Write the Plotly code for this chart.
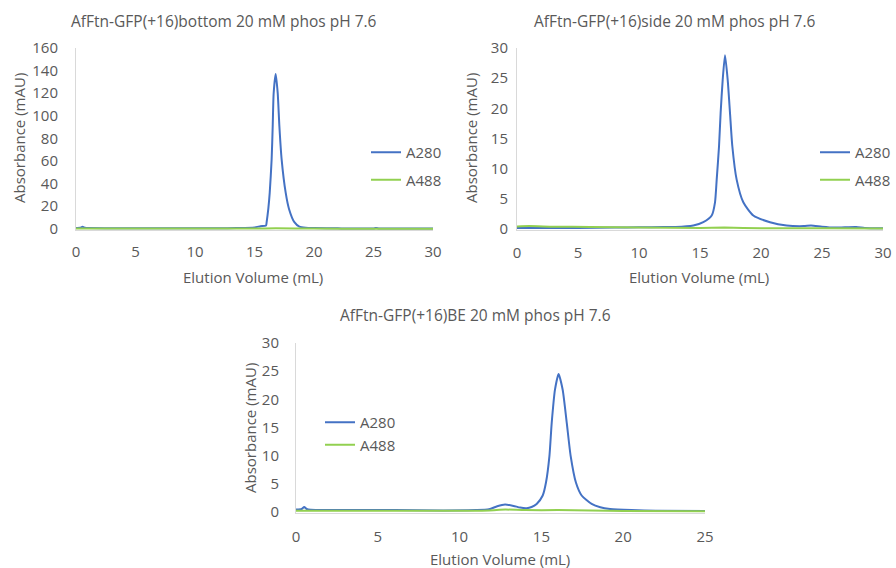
import plotly.graph_objects as go

W, H = 896, 568
BLUE = "#4472C4"
GREEN = "#92D050"
GRAY = "#595959"
AXIS = "#D9D9D9"
FONT = "Open Sans"

titles = ["AfFtn-GFP(+16)bottom 20 mM phos pH 7.6",
          "AfFtn-GFP(+16)side 20 mM phos pH 7.6",
          "AfFtn-GFP(+16)BE 20 mM phos pH 7.6"]
x_title = "Elution Volume (mL)"
y_title = "Absorbance (mAU)"
series_names = ["A280", "A488"]

# Panel 1: bottom
bottom_a280_x = [0, 0.35, 0.55, 0.75, 1.0, 3, 5, 8, 10, 12, 13.5, 15, 15.5, 15.97, 16.02, 16.16, 16.28,
                 16.44, 16.53, 16.61, 16.78, 16.95, 17.09, 17.28, 17.62, 17.9, 18.35, 18.77, 19.3, 20,
                 22, 25, 25.2, 25.5, 28, 30]
bottom_a280_y = [0.8, 0.9, 1.8, 1.0, 0.7, 0.6, 0.5, 0.5, 0.5, 0.5, 0.7, 1.2, 2.3, 3.0, 6, 17.6, 32,
                 61.5, 91, 120, 137, 120, 91, 61.5, 32, 17.6, 5.9, 2.0, 1.0, 0.7,
                 0.4, 0.3, 0.7, 0.3, 0.3, 0.3]
bottom_a488_x = [0, 5, 10, 15, 16.8, 20, 25, 30]
bottom_a488_y = [0.3, 0.2, 0.2, 0.2, 0.4, 0.2, 0.1, 0.1]

# Panel 2: side
side_a280_x = [0, 2, 5, 8, 10, 12, 13, 14.45, 15.27, 15.96, 16.23, 16.37, 16.56, 16.69, 16.86, 17.05,
               17.27, 17.46, 17.65, 18.0, 18.55, 19.37, 20.74, 22.1, 23.5, 24.1, 25, 26, 27.8, 28.5, 30]
side_a280_y = [0.15, 0.15, 0.15, 0.2, 0.25, 0.3, 0.3, 0.55, 1.1, 2.2, 4.4, 8.2, 13.7, 19.2, 24.7, 28.8,
               24.7, 19.2, 13.7, 8.2, 4.4, 2.2, 1.1, 0.55, 0.45, 0.55, 0.35, 0.2, 0.3, 0.15, 0.1]
side_a488_x = [0, 1, 3, 6, 10, 15, 17, 20, 25, 30]
side_a488_y = [0.4, 0.45, 0.35, 0.3, 0.2, 0.15, 0.2, 0.1, 0.1, 0.05]

# Panel 3: BE
be_a280_x = [0, 0.35, 0.5, 0.65, 0.9, 3, 6, 9, 11, 11.8, 12.3, 12.78, 13.3, 13.7, 14.1, 14.4, 14.71,
             15.08, 15.28, 15.49, 15.63, 15.83, 16.05, 16.3, 16.55, 16.79, 17.11, 17.46, 18.07, 18.6,
             19.2, 20.5, 22, 25]
be_a280_y = [0.4, 0.5, 0.85, 0.5, 0.35, 0.3, 0.3, 0.25, 0.3, 0.45, 1.0, 1.3, 1.05, 0.75, 0.65, 0.85, 1.4,
             2.9, 5.2, 9.9, 15.8, 21.7, 24.5, 21.7, 15.8, 9.9, 5.2, 2.9, 1.4, 0.8,
             0.5, 0.3, 0.2, 0.15]
be_a488_x = [0, 5, 10, 11.8, 12.8, 14, 16, 18, 20, 25]
be_a488_y = [0.2, 0.2, 0.2, 0.25, 0.4, 0.3, 0.3, 0.25, 0.15, 0.1]

x_ranges = [[0, 30], [0, 30], [0, 25]]
y_ranges = [[0, 160], [0, 30], [0, 30]]
y_dticks = [20, 5, 5]

# pixel boxes (left, right, top, bottom)
boxes = [(76, 433, 48, 230), (517, 883, 48, 230), (296, 705, 343, 513)]

def px(x):
    return x / W

def py(y):
    return 1 - y / H

panels = [
    (bottom_a280_x, bottom_a280_y, bottom_a488_x, bottom_a488_y),
    (side_a280_x, side_a280_y, side_a488_x, side_a488_y),
    (be_a280_x, be_a280_y, be_a488_x, be_a488_y),
]

fig = go.Figure()
legend_ids = ["legend", "legend2", "legend3"]
for i, (ax_, ay_, gx_, gy_) in enumerate(panels):
    sfx = "" if i == 0 else str(i + 1)
    fig.add_trace(go.Scatter(x=ax_, y=ay_, mode="lines", name=series_names[0],
                             line=dict(color=BLUE, width=2, shape="spline", smoothing=0.6),
                             xaxis="x" + sfx, yaxis="y" + sfx, legend=legend_ids[i],
                             legendgroup=f"a{i}"))
    fig.add_trace(go.Scatter(x=gx_, y=gy_, mode="lines", name=series_names[1],
                             line=dict(color=GREEN, width=2, shape="spline", smoothing=0.6),
                             xaxis="x" + sfx, yaxis="y" + sfx, legend=legend_ids[i],
                             legendgroup=f"b{i}"))

layout = dict(width=W, height=H, margin=dict(l=0, r=0, t=0, b=0, autoexpand=False),
              paper_bgcolor="white", plot_bgcolor="white",
              font=dict(family=FONT, size=15, color=GRAY))

annotations = []
title_pos = [(224, 21), (675, 21), (475, 315)]
xt_pos = [(253, 277), (699, 277), (500, 559)]
yt_pos = [(19, 138), (471, 138), (250, 428)]
ystand = [14, 5, 13]
xstand = [8, 9, 10]
for i, (l, r, t, b) in enumerate(boxes):
    sfx = "" if i == 0 else str(i + 1)
    rng = y_ranges[i]
    span = rng[1] - rng[0]
    pad = span * 1.2 / (b - t)
    layout["xaxis" + sfx] = dict(domain=[px(l), px(r)], range=x_ranges[i], anchor="y" + sfx,
                                 dtick=5, showgrid=False, zeroline=False, showline=True,
                                 linecolor=AXIS, linewidth=1, ticks="", automargin=False,
                                 ticklabelstandoff=xstand[i],
                                 tickfont=dict(family=FONT, size=15, color=GRAY))
    layout["yaxis" + sfx] = dict(domain=[py(b), py(t)], range=[rng[0] - pad, rng[1]],
                                 anchor="x" + sfx, tick0=0, dtick=y_dticks[i], showgrid=False,
                                 zeroline=False, showline=True, linecolor=AXIS, linewidth=1,
                                 ticks="", ticklabelstandoff=ystand[i], automargin=False,
                                 tickfont=dict(family=FONT, size=15, color=GRAY))
    annotations.append(dict(text=titles[i], x=px(title_pos[i][0]), y=py(title_pos[i][1]),
                            xref="paper", yref="paper", showarrow=False,
                            xanchor="center", yanchor="middle",
                            font=dict(family=FONT, size=15.5, color=GRAY)))
    annotations.append(dict(text=x_title, x=px(xt_pos[i][0]), y=py(xt_pos[i][1]),
                            xref="paper", yref="paper", showarrow=False,
                            xanchor="center", yanchor="middle",
                            font=dict(family=FONT, size=15, color=GRAY)))
    annotations.append(dict(text=y_title, x=px(yt_pos[i][0]), y=py(yt_pos[i][1]),
                            xref="paper", yref="paper", showarrow=False, textangle=-90,
                            xanchor="center", yanchor="middle",
                            font=dict(family=FONT, size=15, color=GRAY)))

legend_pos = [(366, 136, 5), (815, 136, 5), (320, 406, 0)]
for i, (lx, ly, gap) in enumerate(legend_pos):
    layout[legend_ids[i]] = dict(x=px(lx), y=py(ly), xanchor="left", yanchor="top",
                                 xref="paper", yref="paper", bgcolor="rgba(0,0,0,0)",
                                 borderwidth=0, tracegroupgap=gap,
                                 font=dict(family=FONT, size=15, color=GRAY),
                                 itemwidth=30)

layout["annotations"] = annotations
layout["showlegend"] = True
fig.update_layout(**layout)
fig.write_html("out.html", config={"displayModeBar": False},
               post_script="document.body.style.margin='0';document.body.style.overflow='hidden';")
